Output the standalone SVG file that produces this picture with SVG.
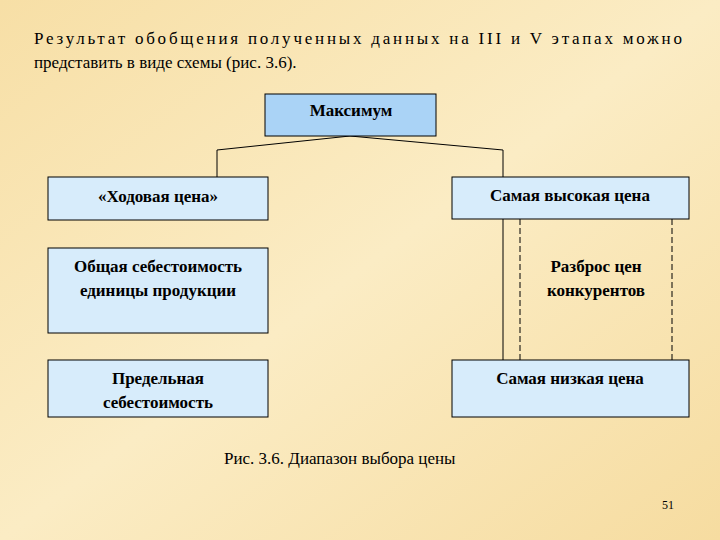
<svg xmlns="http://www.w3.org/2000/svg" width="720" height="540" viewBox="0 0 720 540">
<defs>
<linearGradient id="bg" x1="0" y1="0" x2="1" y2="1">
<stop offset="0" stop-color="#f7dfa6"/><stop offset="0.5" stop-color="#fbecc4"/><stop offset="1" stop-color="#f6dca0"/>
</linearGradient>
<style>
.t{font-family:'Liberation Serif','Times New Roman','DejaVu Serif',serif;font-size:17px;fill:#000}
.bt{font-family:'Liberation Serif','Times New Roman','DejaVu Serif',serif;font-size:17px;font-weight:bold;fill:#000;text-anchor:middle}
.b{fill:#d7ecfb;stroke:#000;stroke-width:1}
.c{fill:none;stroke:#000;stroke-width:1}
</style>
</defs>
<rect width="720" height="540" fill="url(#bg)"/>
<text class="t" x="34" y="44" textLength="648" lengthAdjust="spacing">Результат обобщения полученных данных на III и V этапах можно</text>
<text class="t" x="34" y="68">представить в виде схемы (рис. 3.6).</text>
<g id="connectors">
<path class="c" d="M217,177 V150 L350,136 L503,150 V177"/>
<path class="c" d="M503,219 V360"/>
<path class="c" d="M520,219 V360 M672,219 V360" stroke-dasharray="6,3"/>
</g>
<g id="max"><rect x="265" y="94" width="171" height="42" fill="#aad3f6" stroke="#000"/><text class="bt" x="351" y="116">Максимум</text></g>
<g id="hod"><rect class="b" x="48" y="177" width="220" height="43"/><text class="bt" x="158" y="202">«Ходовая цена»</text></g>
<g id="obsh"><rect class="b" x="48" y="248" width="220" height="85"/><text class="bt" x="158" y="272">Общая себестоимость</text><text class="bt" x="158" y="296">единицы продукции</text></g>
<g id="pred"><rect class="b" x="48" y="360" width="220" height="57"/><text class="bt" x="158" y="384">Предельная</text><text class="bt" x="158" y="408">себестоимость</text></g>
<g id="high"><rect class="b" x="452" y="177" width="237" height="42"/><text class="bt" x="570" y="201">Самая высокая цена</text></g>
<g id="razb"><text class="bt" x="596" y="272">Разброс цен</text><text class="bt" x="596" y="296">конкурентов</text></g>
<g id="low"><rect class="b" x="452" y="360" width="237" height="57"/><text class="bt" x="570" y="384">Самая низкая цена</text></g>
<text class="t" x="224" y="464">Рис. 3.6. Диапазон выбора цены</text>
<text class="t" x="662" y="509" style="font-size:12px">51</text>
</svg>
